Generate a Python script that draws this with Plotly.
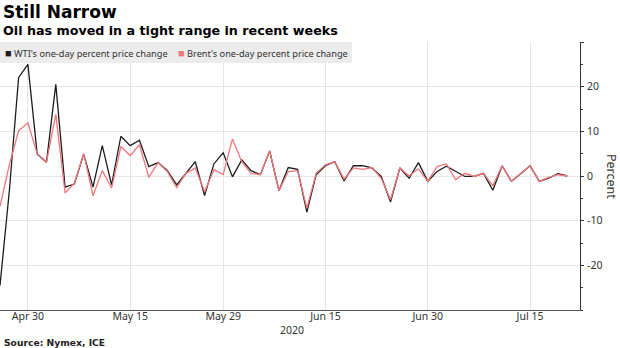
import plotly.graph_objects as go
import pandas as pd

# ---- data ----
dates = pd.bdate_range("2020-04-27", periods=62)  # weekdays Apr 27 .. Jul 21, 2020

wti = [-24.5, -3.4, 22.0, 25.0, 4.9, 3.1, 20.5, -2.5, -1.8, 4.9,
       -2.5, 6.8, -2.0, 8.9, 6.8, 8.0, 2.1, 3.0, 1.2, -2.0,
       None, 3.2, -4.4, 2.7, 5.2, -0.2, 3.6, 1.2, 0.3, 5.6,
       -3.3, 1.9, 1.5, -8.1, 0.3, 2.3, 3.2, -1.1, 2.3, 2.3,
       1.8, -0.1, -5.8, 1.8, -0.5, 3.0, -1.2, 1.0, 2.2, None,
       -0.1, -0.1, 0.6, -3.2, 2.3, -1.2, 0.5, 2.3, -1.2, -0.5,
       0.5, 0.0]

brent = [-6.8, 2.5, 10.1, 11.9, 5.0, 3.1, 13.8, -3.8, -1.6, 5.0,
         -4.4, 1.2, -2.7, 6.6, 4.6, 7.0, -0.3, 3.0, 1.0, -2.6,
         0.6, 1.8, -3.5, 1.4, 0.3, 8.3, 3.2, 0.6, 0.3, 5.6,
         -3.3, 1.0, 1.2, -7.2, 0.6, 2.5, 3.2, -0.7, 1.8, 1.5,
         1.9, -0.5, -5.3, 1.8, 0.0, 1.6, -1.2, 2.1, 2.7, -0.8,
         0.6, -0.1, 0.6, -2.2, 2.3, -1.2, 0.5, 2.3, -1.2, -0.3,
         0.3, 0.0]

series_names = ["WTI's one-day percent price change",
                "Brent's one-day percent price change"]

tick_dates = ["2020-04-30", "2020-05-15", "2020-05-29",
              "2020-06-15", "2020-06-30", "2020-07-15"]
tick_labels = ["Apr 30", "May 15", "May 29", "Jun 15", "Jun 30", "Jul 15"]

y_tickvals = [-20, -10, 0, 10, 20, 30]
y_ticktext = ["-20", "-10", "0", "10", "20", ""]

# ---- styles ----
COL_WTI = "#1c1c1c"
COL_BRENT = "#f0767b"
GRID = "#e6e6e6"
TXT = "#333333"
SMALL = "Noto Sans"
BOLD = "DejaVu Sans"

W, H = 620, 348
ML, MR, MT, MB = 0, 40, 42, 38
PH = H - MT - MB
PW = W - ML - MR


def py(pix):
    """pixel row -> paper y"""
    return (H - MB - pix) / PH


def px(pix):
    return (pix - ML) / PW


fig = go.Figure()
fig.add_trace(go.Scatter(x=dates, y=wti, mode="lines", name=series_names[0],
                         line=dict(color=COL_WTI, width=1.3),
                         connectgaps=True, showlegend=False))
fig.add_trace(go.Scatter(x=dates, y=brent, mode="lines", name=series_names[1],
                         line=dict(color=COL_BRENT, width=1.3),
                         connectgaps=True, showlegend=False))

shapes = [dict(type="rect", xref="paper", yref="paper",
               x0=px(0), x1=px(352), y0=py(63), y1=py(42),
               fillcolor="#ececec", line=dict(width=0), layer="above")]

SQ = '<span style="color:{c};font-size:11px">■</span> '

annotations = [
    dict(text="<b>Still Narrow</b>", x=px(1), y=py(12), xref="paper", yref="paper",
         xanchor="left", yanchor="middle", showarrow=False,
         font=dict(family=BOLD, size=17, color="#000000")),
    dict(text="<b>Oil has moved in a tight range in recent weeks</b>", x=px(1), y=py(30.5),
         xref="paper", yref="paper", xanchor="left", yanchor="middle", showarrow=False,
         font=dict(family=BOLD, size=12.7, color="#000000")),
    dict(text=SQ.format(c=COL_WTI) + series_names[0],
         x=px(3), y=py(52.5), xref="paper", yref="paper", xanchor="left", yanchor="middle",
         showarrow=False, font=dict(family=SMALL, size=9.2, color=TXT)),
    dict(text=SQ.format(c=COL_BRENT) + series_names[1],
         x=px(176), y=py(52.5), xref="paper", yref="paper", xanchor="left", yanchor="middle",
         showarrow=False, font=dict(family=SMALL, size=9.2, color=TXT)),
    dict(text="2020", x=px(292), y=py(329.5), xref="paper", yref="paper",
         xanchor="center", yanchor="middle", showarrow=False,
         font=dict(family=SMALL, size=10.5, color=TXT)),
    dict(text="<b>Source: Nymex, ICE</b>", x=px(2), y=py(342), xref="paper", yref="paper",
         xanchor="left", yanchor="middle", showarrow=False,
         font=dict(family=BOLD, size=9.2, color="#222222")),
    dict(text="Percent", x=px(612), y=py(176), xref="paper", yref="paper",
         xanchor="center", yanchor="middle", textangle=90, showarrow=False,
         font=dict(family=SMALL, size=12.5, color=TXT)),
]

fig.update_layout(
    width=W, height=H,
    margin=dict(l=ML, r=MR, t=MT, b=MB, pad=0),
    paper_bgcolor="white", plot_bgcolor="white",
    showlegend=False,
    shapes=shapes, annotations=annotations,
    xaxis=dict(
        type="date",
        range=["2020-04-27 00:00", "2020-07-22 09:00"],
        rangebreaks=[dict(bounds=["sat", "mon"])],
        tickvals=tick_dates, ticktext=tick_labels,
        showgrid=True, gridcolor=GRID, gridwidth=1,
        showline=True, linecolor="#555555", linewidth=1,
        ticks="",
        ticklabelstandoff=-4,
        tickfont=dict(family=SMALL, size=10.5, color=TXT),
        zeroline=False, fixedrange=True,
    ),
    yaxis=dict(
        side="right",
        range=[-30, 30],
        tickvals=y_tickvals, ticktext=y_ticktext,
        showgrid=True, gridcolor=GRID, gridwidth=1,
        zeroline=False,
        showline=True, linecolor="#333333", linewidth=1,
        ticks="outside", ticklen=3, tickcolor="#333333",
        minor=dict(dtick=5, ticks="outside", ticklen=2, tickcolor="#333333", showgrid=False),
        tickfont=dict(family=SMALL, size=10.5, color=TXT),
        ticklabelstandoff=1,
        fixedrange=True,
    ),
)

fig.write_html("out.html")
